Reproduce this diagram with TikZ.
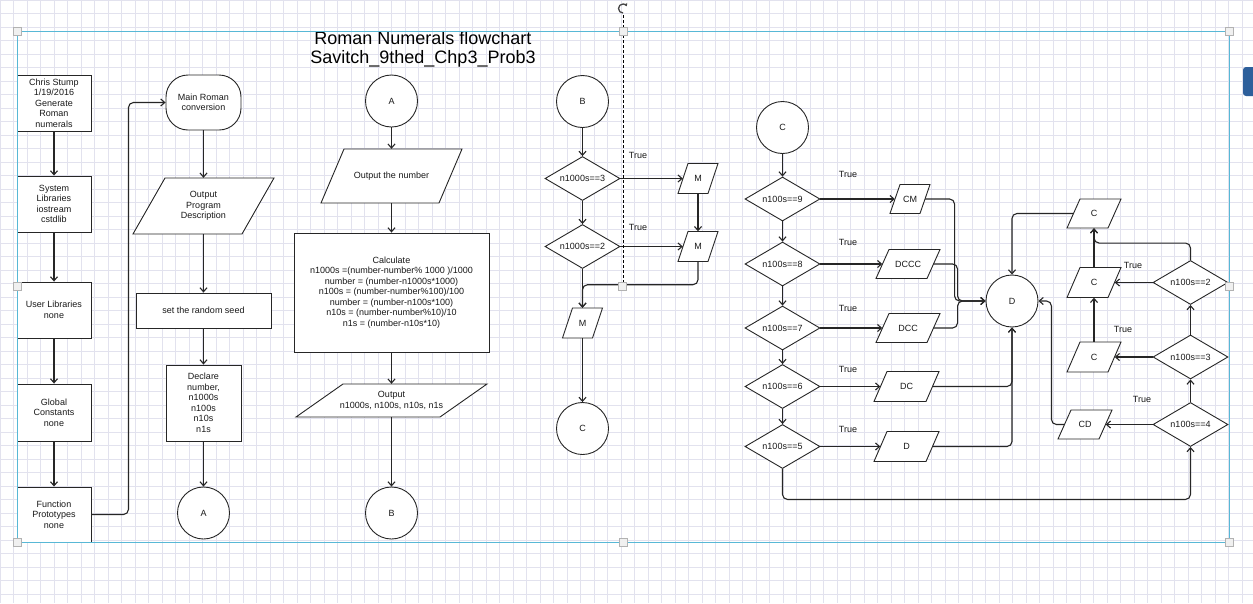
\documentclass[tikz,border=0pt]{standalone}
\usepackage{fontspec}
\setmainfont{Liberation Sans}
\usetikzlibrary{shapes.geometric,arrows.meta,calc}
\definecolor{gridc}{RGB}{226,226,238}
\definecolor{selblue}{RGB}{88,184,214}
\definecolor{linec}{RGB}{38,38,38}
\definecolor{btnblue}{RGB}{45,95,155}
% parallelogram: name, x, y, total width, height, slant, text
\newcommand\iobox[7]{%
  \filldraw[draw=linec, line width=0.9pt, fill=white, line join=miter]
    ({#2-#4/2},{#3+#5/2}) -- ({#2-#4/2+#6},{#3-#5/2}) -- ({#2+#4/2},{#3-#5/2}) -- ({#2+#4/2-#6},{#3+#5/2}) -- cycle;
  \node[iotext, minimum width={#4-#6}, minimum height=#5] (#1) at (#2,#3) {#7};%
}
\begin{document}
\begin{tikzpicture}[x=1pt,y=-1pt,
 every node/.style={font=\fontsize{9}{10.5}\selectfont, text=black!90},
 shp/.style={draw=linec, line width=0.9pt, fill=white, align=center, inner sep=1pt},
 box/.style={shp, rectangle},
 term/.style={shp, rectangle, rounded corners=22pt},
 iotext/.style={rectangle, draw=none, fill=none, align=center, inner sep=0pt},
 dec/.style={shp, diamond, aspect=1.7, minimum width=75pt, minimum height=44pt},
 conn/.style={shp, circle, minimum size=52pt},
 arr/.style={draw=linec, line width=1.1pt, rounded corners=5pt, -{Straight Barb[length=4pt,width=7pt,line width=1.1pt]}},
 lbl/.style={inner sep=0pt},
 handle/.style={draw=gray!60, fill=gray!12, line width=0.5pt, minimum size=8pt, inner sep=0pt}
]
\useasboundingbox (0,0) rectangle (1253,603);
\clip (0,0) rectangle (1253,603);
\fill[white] (0,0) rectangle (1253,603);
\draw[gridc, line width=0.4pt, step=13.5pt] (0,0) grid (1253,603);

% title
\node[font=\fontsize{18}{19}\selectfont, align=center, text=black] (title) at (423,49.5) {Roman Numerals flowchart\\Savitch\_9thed\_Chp3\_Prob3};

% column 1
\node[box, minimum width=74pt, minimum height=56pt] (info) at (54,103) {Chris Stump\\1/19/2016\\Generate\\Roman\\numerals};
\node[box, minimum width=74pt, minimum height=56pt] (sys) at (54,204) {System\\Libraries\\iostream\\cstdlib};
\node[box, minimum width=74pt, minimum height=56pt] (usr) at (54,310) {User Libraries\\none};
\node[box, minimum width=74pt, minimum height=57pt] (glob) at (54,412.5) {Global\\Constants\\none};
\node[box, minimum width=74pt, minimum height=55pt] (func) at (54,514.5) {Function\\Prototypes\\none};
\draw[arr] (info) -- (sys);
\draw[arr] (sys) -- (usr);
\draw[arr] (usr) -- (glob);
\draw[arr] (glob) -- (func);

% column 2
\node[term, minimum width=75pt, minimum height=55pt] (main) at (203.5,102.5) {Main Roman\\conversion};
\iobox{desc}{203.5}{206}{141}{56}{32}{Output\\Program\\Description}
\node[box, minimum width=135pt, minimum height=35pt] (seed) at (203.5,310.5) {set the random seed};
\node[box, minimum width=75pt, minimum height=76pt] (decl) at (203.5,403) {Declare\\number,\\n1000s\\n100s\\n10s\\n1s};
\node[conn] (A1) at (203.5,513) {A};
\draw[arr] (func.east) -- ++(37,0) |- (main.west);
\draw[arr] (main) -- (desc);
\draw[arr] (desc) -- (seed);
\draw[arr] (seed) -- (decl);
\draw[arr] (decl) -- (A1);

% column 3
\node[conn] (A2) at (391.5,101) {A};
\iobox{outnum}{391.5}{176}{141}{54}{23}{Output the number}
\node[box, minimum width=195pt, minimum height=119pt] (calc) at (391.5,292.5) {Calculate\\n1000s =(number-number\% 1000 )/1000\\number = (number-n1000s*1000)\\n100s = (number-number\%100)/100\\number = (number-n100s*100)\\n10s = (number-number\%10)/10\\n1s = (number-n10s*10)};
\iobox{outres}{391.5}{400.5}{191}{33}{47}{Output\\n1000s, n100s, n10s, n1s}
\node[conn] (B1) at (391.5,513) {B};
\draw[arr] (A2) -- (outnum);
\draw[arr] (outnum) -- (calc);
\draw[arr] (calc) -- (outres);
\draw[arr] (outres) -- (B1);

% column 4
\node[conn] (B2) at (582.5,101.5) {B};
\node[dec] (t3) at (582.5,178.5) {n1000s==3};
\node[dec] (t2) at (582.5,246.5) {n1000s==2};
\iobox{M1}{698}{178.5}{40}{30}{10}{M}
\iobox{M2}{698}{246.5}{40}{30}{10}{M}
\iobox{M3}{582.5}{323}{40}{30}{10}{M}
\node[conn] (C1) at (582.5,428.5) {C};
\node[lbl] (tr1) at (638,155) {True};
\node[lbl] (tr2) at (638,227) {True};
\draw[arr] (B2) -- (t3);
\draw[arr] (t3) -- (t2);
\draw[arr] (t3) -- (M1);
\draw[arr] (M1) -- (M2);
\draw[arr] (t2) -- (M2);
\draw[arr] (t2) -- (M3);
\draw[arr] (M2.south) -- ++(0,23) -| (M3.north);
\draw[arr] (M3) -- (C1);

% column 5
\node[conn] (C2) at (782.5,127.5) {C};
\node[dec] (h9) at (782.5,199) {n100s==9};
\node[dec] (h8) at (782.5,264) {n100s==8};
\node[dec] (h7) at (782.5,328) {n100s==7};
\node[dec] (h6) at (782.5,386.5) {n100s==6};
\node[dec] (h5) at (782.5,446.5) {n100s==5};
\iobox{CM}{910}{199}{40}{29}{10}{CM}
\iobox{DCCC}{908}{264}{64}{29}{13}{DCCC}
\iobox{DCC}{908}{328}{64}{29}{13}{DCC}
\iobox{DC}{906.5}{386.5}{65}{30}{13}{DC}
\iobox{Dp}{906.5}{446.5}{65}{30}{13}{D}
\node[conn] (D) at (1012,301) {D};
\node[lbl] (tr3) at (848,174) {True};
\node[lbl] (tr4) at (848,242) {True};
\node[lbl] (tr5) at (848,308) {True};
\node[lbl] (tr6) at (848,369) {True};
\node[lbl] (tr7) at (848,429) {True};
\draw[arr] (C2) -- (h9);
\draw[arr] (h9) -- (h8);
\draw[arr] (h8) -- (h7);
\draw[arr] (h7) -- (h6);
\draw[arr] (h6) -- (h5);
\draw[arr] (h9) -- (CM);
\draw[arr] (h8) -- (DCCC);
\draw[arr] (h7) -- (DCC);
\draw[arr] (h6) -- (DC);
\draw[arr] (h5) -- (Dp);
\draw[arr] (CM.east) -| ([xshift=-31pt]D.west) -- (D.west);
\draw[arr] (DCCC.east) -| ([xshift=-28pt]D.west) -- (D.west);
\draw[arr] (DCC.east) -| ([xshift=-28pt]D.west) -- (D.west);
\draw[arr] (DC.east) -| (D.south);
\draw[arr] (Dp.east) -| (D.south);

% right part
\iobox{Ct}{1094}{213.5}{54}{29}{13}{C}
\iobox{Cm}{1094}{282.5}{54}{30}{13}{C}
\iobox{Cl}{1094}{357}{54}{30}{13}{C}
\iobox{CD}{1085}{424.5}{54}{29}{13}{CD}
\node[dec] (d2) at (1190.5,282.5) {n100s==2};
\node[dec] (d3) at (1190.5,357) {n100s==3};
\node[dec] (d4) at (1190.5,424.5) {n100s==4};
\node[lbl] (tr8) at (1133,265) {True};
\node[lbl] (tr9) at (1123,329) {True};
\node[lbl] (tr10) at (1142,399) {True};
\draw[arr] (d2) -- (Cm);
\draw[arr] (d3) -- (Cl);
\draw[arr] (d4) -- (CD);
\draw[arr] (d4) -- (d3);
\draw[arr] (d3) -- (d2);
\draw[arr] (d2.north) -- ++(0,-17) -| (Ct.south);
\draw[arr] (Cm) -- (Ct);
\draw[arr] (Cl) -- (Cm);
\draw[arr] (CD.west) -| ([xshift=13pt]D.east) -- (D.east);
\draw[arr] (Ct.west) -| (D.north);
\draw[arr] (h5.south) -- ++(0,30.5) -| (d4.south);

% editor overlay
\draw[black, line width=0.7pt, dash pattern=on 3pt off 2pt] (623,15) -- (623,283);
\draw[gray!55!black, line width=1.3pt, -{Stealth[length=3pt,width=4pt]}] (623,13) arc[start angle=90, end angle=330, radius=4.5];
\draw[selblue, line width=0.8pt] (17,31) rectangle (1229,542);
\foreach \hx/\hy/\hn in {17/31/a, 623/31/b, 1229/31/c, 17/286/d, 1229/286/e, 17/542/f, 623/542/g, 1229/542/h, 622.5/286.5/i}
  \node[handle] (hd\hn) at (\hx,\hy) {};
\fill[btnblue, rounded corners=3pt] (1243,67) rectangle (1262,96);
\end{tikzpicture}
\end{document}
